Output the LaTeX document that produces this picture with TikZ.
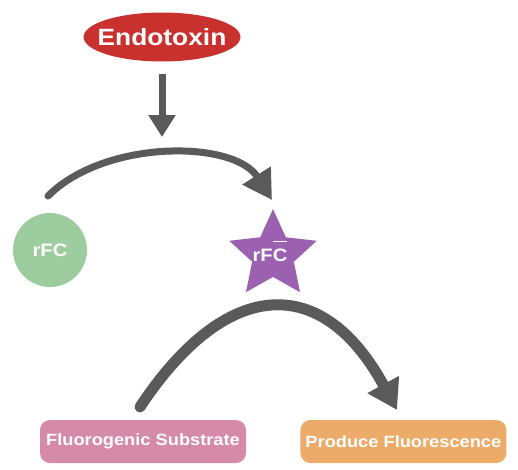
\documentclass[tikz,border=0pt]{standalone}
\usepackage{fontspec}
\setmainfont{Liberation Sans}[FakeStretch=1.12]
\usepackage{tikz}
\usetikzlibrary{arrows.meta, shapes.geometric, positioning}

\definecolor{endored}{RGB}{201,49,46}
\definecolor{rfcgreen}{RGB}{157,205,158}
\definecolor{rfcpurple}{RGB}{156,96,176}
\definecolor{subpink}{RGB}{213,139,168}
\definecolor{fluoorange}{RGB}{237,171,106}
\definecolor{arrowgray}{RGB}{90,90,90}

% text that does not size its node
\newcommand{\zerobox}[1]{\makebox[0pt]{\raisebox{-0.36em}[0pt][0pt]{#1}}}
\newcommand{\barC}{\ooalign{\hfil C\hfil\cr\rule[1.06em]{0.78em}{0.09em}\cr}}

\tikzset{
  blob/.style={draw=none, text=white, font=\bfseries, inner sep=0pt},
  labelbox/.style={blob, rounded corners=10pt, minimum width=206pt, minimum height=43pt,
    font=\bfseries\fontsize{16.3}{19}\selectfont},
  flow/.style={draw=arrowgray, line cap=round},
}

\begin{document}
\begin{tikzpicture}[x=1pt, y=-1pt]
  \useasboundingbox (0,0) rectangle (518,469);

  \node (endo) [blob, ellipse, fill=endored, minimum width=157pt, minimum height=49pt,
    font=\bfseries\fontsize{23.5}{28}\selectfont] at (162,37) {\zerobox{Endotoxin}};
  \node (rfc) [blob, circle, fill=rfcgreen, minimum size=74pt,
    font=\bfseries\fontsize{18}{21}\selectfont] at (50,250) {rFC};
  \node (rfcact) [blob, star, star points=5, star point ratio=2.1, fill=rfcpurple,
    minimum size=92pt, font=\bfseries\fontsize{18}{21}\selectfont] at (273,255)
    {\zerobox{\hspace*{-6pt}rF\barC}};
  \node (sub) [labelbox, fill=subpink] at (143,441.5) {Fluorogenic Substrate};
  \node (fluo) [labelbox, fill=fluoorange, right=54pt of sub] {Produce Fluorescence};

  \coordinate (hit) at (162,137);
  \coordinate (s1) at (48,196);
  \coordinate (t1) at (272,200);
  \coordinate (s2) at (140,407);
  \coordinate (t2) at (397,410);

  \draw[flow, line width=7pt, line cap=butt, -{Triangle[length=22pt,width=26pt]}]
    ([yshift=-12pt]endo.south) -- (hit);
  \draw[flow, line width=7pt, -{Triangle[length=29pt,width=32pt]}]
    (s1) .. controls (105,139) and (234,140) .. (t1);
  \draw[flow, line width=11pt, -{Triangle[length=29pt,width=34pt]}]
    (s2) .. controls (226,277) and (322,272) .. (t2);
\end{tikzpicture}
\end{document}
